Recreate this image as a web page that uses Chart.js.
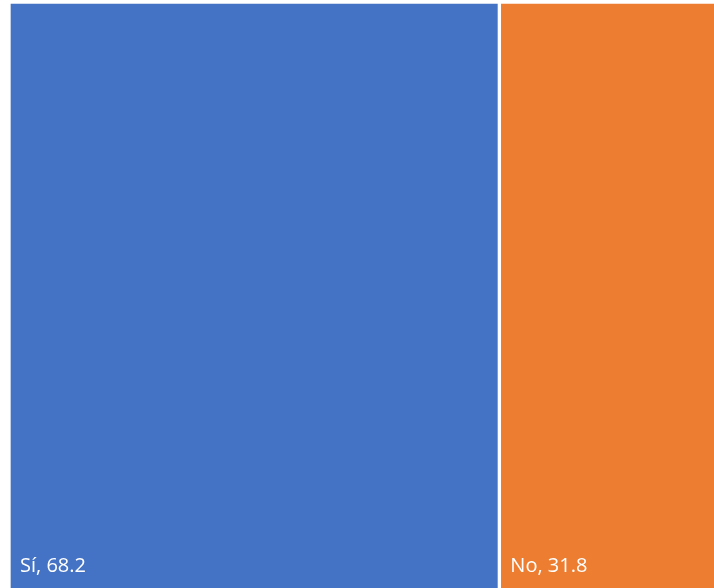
<!DOCTYPE html>
<html>
<head>
<meta charset="utf-8">
<script src="https://cdn.jsdelivr.net/npm/chart.js@4/dist/chart.umd.min.js"></script>
<style>
  html, body { margin: 0; padding: 0; background: #fff; overflow: hidden; }
  #wrap { width: 728px; height: 594px; }
</style>
</head>
<body>
<div id="wrap"><canvas id="treeChart" width="728" height="594"></canvas></div>
<script>
// treemap with two tiles -> one stacked horizontal bar
const categories = ['Sí', 'No'];
const values = [68.2, 31.8];
const colors = ['#4472C4', '#ED7D31'];

// write "name, value" at the bottom-left corner of each tile
const tileLabels = {
  id: 'tileLabels',
  afterDatasetsDraw(chart) {
    const ctx = chart.ctx;
    ctx.save();
    ctx.fillStyle = '#ffffff';
    ctx.font = '20px "Open Sans"';
    ctx.textBaseline = 'alphabetic';
    chart.data.datasets.forEach((ds, i) => {
      const bar = chart.getDatasetMeta(i).data[0];
      const left = Math.min(bar.x, bar.base);
      const bottom = bar.y + bar.height / 2;
      ctx.fillText(ds.label + ', ' + ds.data[0], left + 11, bottom - 22);
    });
    ctx.restore();
  }
};

new Chart(document.getElementById('treeChart'), {
  type: 'bar',
  data: {
    labels: [''],
    datasets: categories.map((c, i) => ({
      label: c,
      data: [values[i]],
      backgroundColor: colors[i],
      borderColor: '#ffffff',
      borderWidth: 2,
      borderSkipped: false,
      barPercentage: 1,
      categoryPercentage: 1
    }))
  },
  options: {
    indexAxis: 'y',
    responsive: false,
    animation: false,
    layout: { padding: { left: 9, top: 2, right: 0, bottom: 0 } },
    scales: {
      x: { stacked: true, min: 0, max: 100, display: false },
      y: { stacked: true, display: false }
    },
    plugins: {
      legend: { display: false },
      tooltip: { enabled: false }
    }
  },
  plugins: [tileLabels]
});
</script>
</body>
</html>
